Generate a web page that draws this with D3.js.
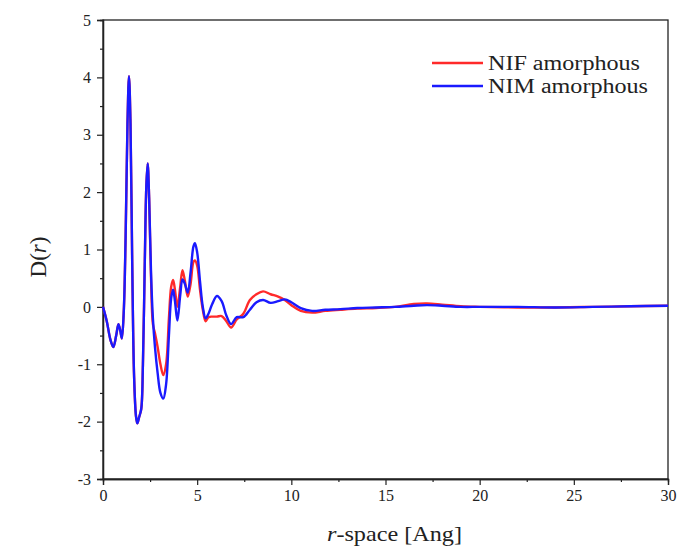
<!DOCTYPE html>
<html>
<head>
<meta charset="utf-8">
<script src="https://cdn.jsdelivr.net/npm/d3@7"></script>
<style>
  body { margin: 0; background: #fff; }
  text { font-family: "Liberation Serif", "Times New Roman", serif; fill: #222; }
</style>
</head>
<body>
<svg id="svg"></svg>
<script>
// r grid (Angstrom) shared by both curves
let rVals = [0, 0.2, 0.4, 0.55, 0.7, 0.82, 0.92, 1.0, 1.1, 1.2, 1.3, 1.38, 1.46, 1.55, 1.65, 1.75, 1.82, 1.92,
  2.03, 2.12, 2.22, 2.3, 2.37, 2.45, 2.55, 2.65, 2.76, 2.9, 3.05, 3.2, 3.35, 3.5, 3.62, 3.72, 3.82, 3.95,
  4.1, 4.22, 4.35, 4.5, 4.65, 4.8, 4.88, 5.0, 5.15, 5.3, 5.45, 5.6, 5.8, 6.05, 6.3, 6.55, 6.8, 7.1, 7.45,
  7.8, 8.15, 8.5, 8.9, 9.3, 9.65, 10.0, 10.5, 11.1, 11.8, 12.6, 13.5, 14.5, 15.5, 16.5, 17.2, 18.0, 19.0,
  20.0, 22.0, 24.0, 26.0, 28.0, 30.0]

// NIF amorphous (red)
let nif = [0, -0.25, -0.58, -0.70, -0.50, -0.30, -0.42, -0.55, -0.1, 1.2, 3.2, 4.02, 3.2, 0.8, -1.2, -1.9, -2.03, -1.92,
  -1.78, -1.0, 0.8, 2.1, 2.50, 1.9, 0.5, -0.3, -0.46, -0.7, -1.0, -1.19, -1.0, -0.2, 0.35, 0.47, 0.3, 0.0,
  0.35, 0.64, 0.45, 0.18, 0.4, 0.78, 0.81, 0.72, 0.3, -0.05, -0.25, -0.18, -0.17, -0.17, -0.16, -0.25, -0.36, -0.22, -0.12,
  0.12, 0.22, 0.27, 0.22, 0.18, 0.12, 0.03, -0.07, -0.10, -0.07, -0.05, -0.03, -0.02, 0.0, 0.05, 0.06, 0.04, 0.01,
  0.0, -0.01, -0.01, 0.0, 0.01, 0.02]

// NIM amorphous (blue)
let nim = [0, -0.25, -0.58, -0.70, -0.50, -0.30, -0.42, -0.55, -0.1, 1.2, 3.2, 4.02, 3.2, 0.8, -1.2, -1.9, -2.03, -1.92,
  -1.78, -1.0, 0.8, 2.1, 2.50, 1.9, 0.6, -0.2, -0.7, -1.15, -1.5, -1.6, -1.35, -0.5, 0.15, 0.30, 0.1, -0.24,
  0.2, 0.48, 0.4, 0.25, 0.6, 1.05, 1.11, 0.95, 0.45, 0.0, -0.2, -0.12, 0.05, 0.19, 0.1, -0.15, -0.30, -0.18, -0.18,
  -0.05, 0.08, 0.12, 0.07, 0.10, 0.13, 0.08, -0.02, -0.07, -0.05, -0.04, -0.02, -0.01, 0.0, 0.02, 0.03, 0.02, 0.0,
  0.0, 0.0, -0.01, 0.0, 0.01, 0.02]

let xTicks = [0, 5, 10, 15, 20, 25, 30]
let yTicks = [-3, -2, -1, 0, 1, 2, 3, 4, 5]
let seriesNames = ['NIF amorphous', 'NIM amorphous']
let seriesColors = ['#ff2a2a', '#1a1aff']

let W = 679, H = 552
let mLeft = 103, mRight = 668, mTop = 20, mBottom = 479

let svg = d3.select('#svg').attr('width', W).attr('height', H)

let x = d3.scaleLinear().domain([0, 30]).range([mLeft, mRight])
let y = d3.scaleLinear().domain([-3, 5]).range([mBottom, mTop])

// frame
svg.append('rect')
  .attr('x', mLeft).attr('y', mTop)
  .attr('width', mRight - mLeft).attr('height', mBottom - mTop)
  .attr('fill', 'none').attr('stroke', '#222').attr('stroke-width', 1.3)

// x axis
let xAxis = d3.axisBottom(x).tickValues(xTicks).tickSize(6).tickPadding(5).tickFormat(d => String(d))
let xMinor = d3.axisBottom(x).tickValues(d3.range(2.5, 30, 5)).tickSize(3).tickFormat('')
svg.append('g').attr('transform', `translate(0,${mBottom})`).call(xAxis)
svg.append('g').attr('transform', `translate(0,${mBottom})`).call(xMinor)

// y axis (plain hyphen for negatives, like the original)
let yAxis = d3.axisLeft(y).tickValues(yTicks).tickSize(6).tickPadding(6).tickFormat(d => String(d))
let yMinor = d3.axisLeft(y).tickValues(d3.range(-2.5, 5, 1)).tickSize(3).tickFormat('')
svg.append('g').attr('transform', `translate(${mLeft},0)`).call(yAxis)
svg.append('g').attr('transform', `translate(${mLeft},0)`).call(yMinor)

svg.selectAll('.domain').attr('stroke', '#222').attr('stroke-width', 1.3)
svg.selectAll('.tick line').attr('stroke', '#222').attr('stroke-width', 1.2)
svg.selectAll('.tick text').attr('font-size', 16).attr('fill', '#222')
  .attr('font-family', '"Liberation Serif", serif')

// curves
let line = (vals) => d3.line()
  .x((d, i) => x(rVals[i]))
  .y(d => y(d))
  .curve(d3.curveCatmullRom.alpha(0.5))(vals)

let series = [nif, nim]
series.forEach((s, k) => {
  svg.append('path')
    .attr('d', line(s))
    .attr('fill', 'none')
    .attr('stroke', seriesColors[k])
    .attr('stroke-width', 2.4)
    .attr('stroke-linejoin', 'round')
})

// legend
let legLen = [152, 160]
let leg = svg.append('g')
seriesNames.forEach((name, k) => {
  let ly = 63 + k * 23
  leg.append('line')
    .attr('x1', 432).attr('x2', 483).attr('y1', ly).attr('y2', ly)
    .attr('stroke', seriesColors[k]).attr('stroke-width', 2.4)
  leg.append('text')
    .attr('x', 488).attr('y', ly + 7)
    .attr('font-size', 20.5)
    .attr('textLength', legLen[k]).attr('lengthAdjust', 'spacingAndGlyphs')
    .text(name)
})

// axis titles
let xt = svg.append('text')
  .attr('x', 327).attr('y', 541)
  .attr('font-size', 22)
  .attr('textLength', 135).attr('lengthAdjust', 'spacingAndGlyphs')
xt.append('tspan').attr('font-style', 'italic').text('r')
xt.append('tspan').text('-space [Ang]')

let yt = svg.append('text')
  .attr('transform', `translate(46,257) rotate(-90)`)
  .attr('text-anchor', 'middle').attr('font-size', 23)
yt.append('tspan').text('D(')
yt.append('tspan').attr('font-style', 'italic').text('r')
yt.append('tspan').text(')')
</script>
</body>
</html>
